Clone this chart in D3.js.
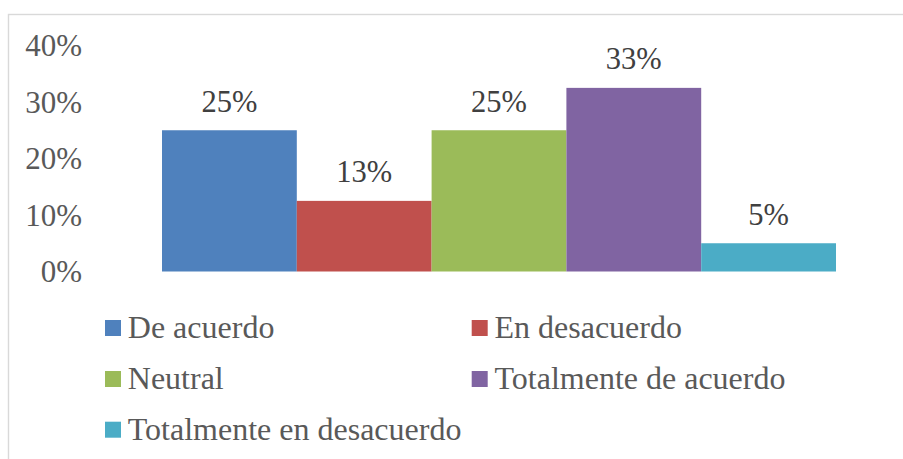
<!DOCTYPE html>
<html>
<head>
<meta charset="utf-8">
<script src="https://cdn.jsdelivr.net/npm/d3@7"></script>
<style>
  html, body { margin: 0; padding: 0; background: #fff; }
  svg { display: block; }
</style>
</head>
<body>
<svg id="chart" width="903" height="459"></svg>
<script>
const series = ["De acuerdo", "En desacuerdo", "Neutral", "Totalmente de acuerdo", "Totalmente en desacuerdo"];
const values = [0.25, 0.125, 0.25, 0.325, 0.05];
const valueLabels = ["25%", "13%", "25%", "33%", "5%"];
const colors = ["#4F81BD", "#C0504D", "#9BBB59", "#8064A2", "#4BACC6"];
const yTicks = [0, 0.1, 0.2, 0.3, 0.4];
const yTickLabels = ["0%", "10%", "20%", "30%", "40%"];

const FONT = "Liberation Serif";

const svg = d3.select("#chart");

svg.append("rect")
  .attr("x", 8.5).attr("y", 14.5)
  .attr("width", 1000).attr("height", 1000)
  .attr("fill", "none").attr("stroke", "#D9D9D9").attr("stroke-width", 1.4);

const y = d3.scaleLinear().domain([0, 0.4]).range([271.5, 45.5]);
const x = d3.scaleBand().domain(series).range([162, 836]).padding(0);

const yAxis = d3.axisLeft(y).tickValues(yTicks)
  .tickFormat((d, i) => yTickLabels[i]).tickSize(0).tickPadding(0);
const gy = svg.append("g").attr("transform", "translate(82,0)").call(yAxis);
gy.attr("font-family", FONT).attr("font-size", 31);
gy.select(".domain").remove();
gy.selectAll("text")
  .attr("font-family", FONT)
  .attr("font-size", 31).attr("fill", "#595959")
  .attr("dy", null)
  .attr("y", 10);

svg.selectAll("rect.bar").data(series).enter().append("rect")
  .attr("class", "bar")
  .attr("x", d => x(d))
  .attr("width", x.bandwidth())
  .attr("y", (d, i) => y(values[i]))
  .attr("height", (d, i) => y(0) - y(values[i]))
  .attr("fill", (d, i) => colors[i]);

svg.selectAll("text.lbl").data(series).enter().append("text")
  .attr("class", "lbl")
  .attr("x", d => x(d) + x.bandwidth() / 2)
  .attr("y", (d, i) => y(values[i]) - 18.5)
  .attr("text-anchor", "middle")
  .attr("font-family", FONT)
  .attr("font-size", 30.5).attr("fill", "#404040")
  .text((d, i) => valueLabels[i]);

const colX = [105, 471.7];
const rowY = [320, 371, 421.7];
const lg = svg.selectAll("g.leg").data(series).enter().append("g")
  .attr("class", "leg")
  .attr("transform", (d, i) => `translate(${colX[i % 2]},${rowY[Math.floor(i / 2)]})`);
lg.append("rect").attr("width", 16).attr("height", 16)
  .attr("fill", (d, i) => colors[i]);
lg.append("text").attr("x", 22.8).attr("y", 18.3)
  .attr("font-family", FONT)
  .attr("font-size", 32).attr("fill", "#595959")
  .text(d => d);
</script>
</body>
</html>
